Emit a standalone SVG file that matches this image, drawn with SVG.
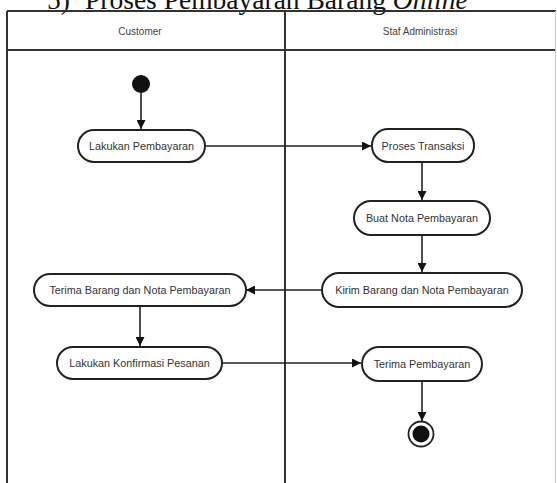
<svg xmlns="http://www.w3.org/2000/svg" width="557" height="483" viewBox="0 0 557 483">
<defs>
<marker id="arr" viewBox="0 0 10 10" refX="10" refY="5" markerWidth="9" markerHeight="9" markerUnits="userSpaceOnUse" orient="auto">
<path d="M0,0 L10,5 L0,10 z" fill="#111"/>
</marker>
<style>
.node rect{fill:#fff;stroke:#222;stroke-width:2}
.node text{font-family:"Liberation Sans",Arial,sans-serif;font-size:10.8px;fill:#333;text-anchor:middle;dominant-baseline:central}
.hdr{font-family:"Liberation Sans",Arial,sans-serif;font-size:10px;fill:#444;text-anchor:middle;dominant-baseline:central}
.conn line{stroke:#222;stroke-width:1.6;fill:none;marker-end:url(#arr)}
.frame{stroke:#333;stroke-width:2;fill:none}
</style>
</defs>
<rect width="557" height="483" fill="#fff"/>
<text y="9" font-family="'Liberation Serif','Times New Roman',serif" font-size="27.5" fill="#111"><tspan x="47">5)</tspan><tspan x="85">Proses Pembayaran Barang </tspan><tspan font-style="italic">Online</tspan></text>
<g id="swimlanes">
<line class="frame" x1="7" y1="11" x2="556" y2="11"/>
<line class="frame" x1="7" y1="11" x2="7" y2="483"/>
<line class="frame" x1="7" y1="50" x2="556" y2="50" stroke-width="2.5"/>
<line class="frame" x1="285" y1="11" x2="285" y2="483"/>
<line x1="555.5" y1="11" x2="555.5" y2="483" stroke="#ccc" stroke-width="1"/>
<text class="hdr" x="140" y="31">Customer</text>
<text class="hdr" x="420" y="31">Staf Administrasi</text>
</g>
<g class="conn" id="connectors">
<line x1="141" y1="93" x2="141" y2="129"/>
<line x1="205" y1="146" x2="371" y2="146"/>
<line x1="422" y1="163" x2="422" y2="200"/>
<line x1="422" y1="236" x2="422" y2="272"/>
<line x1="322" y1="290" x2="246" y2="290"/>
<line x1="140" y1="306" x2="140" y2="346"/>
<line x1="222" y1="363" x2="361" y2="363"/>
<line x1="422" y1="381" x2="422" y2="421"/>
</g>
<g id="start"><circle cx="141" cy="84" r="9" fill="#111"/></g>
<g class="node" id="n1"><rect x="78" y="130" width="127" height="32" rx="16"/><text x="141.5" y="146">Lakukan Pembayaran</text></g>
<g class="node" id="n2"><rect x="372" y="129" width="102" height="33" rx="16"/><text x="423" y="146">Proses Transaksi</text></g>
<g class="node" id="n3"><rect x="354" y="201" width="136" height="34" rx="17"/><text x="422" y="218">Buat Nota Pembayaran</text></g>
<g class="node" id="n4"><rect x="322" y="273" width="200" height="34" rx="17"/><text x="422" y="290">Kirim Barang dan Nota Pembayaran</text></g>
<g class="node" id="n5"><rect x="34" y="274" width="212" height="32" rx="16"/><text x="140" y="290">Terima Barang dan Nota Pembayaran</text></g>
<g class="node" id="n6"><rect x="57" y="347" width="165" height="32" rx="16"/><text x="139.5" y="363">Lakukan Konfirmasi Pesanan</text></g>
<g class="node" id="n7"><rect x="362" y="347" width="120" height="34" rx="17"/><text x="422" y="364">Terima Pembayaran</text></g>
<g id="end"><circle cx="421" cy="434" r="12.5" fill="#fff" stroke="#222" stroke-width="1.8"/><circle cx="421" cy="434" r="8.5" fill="#111"/></g>
</svg>
